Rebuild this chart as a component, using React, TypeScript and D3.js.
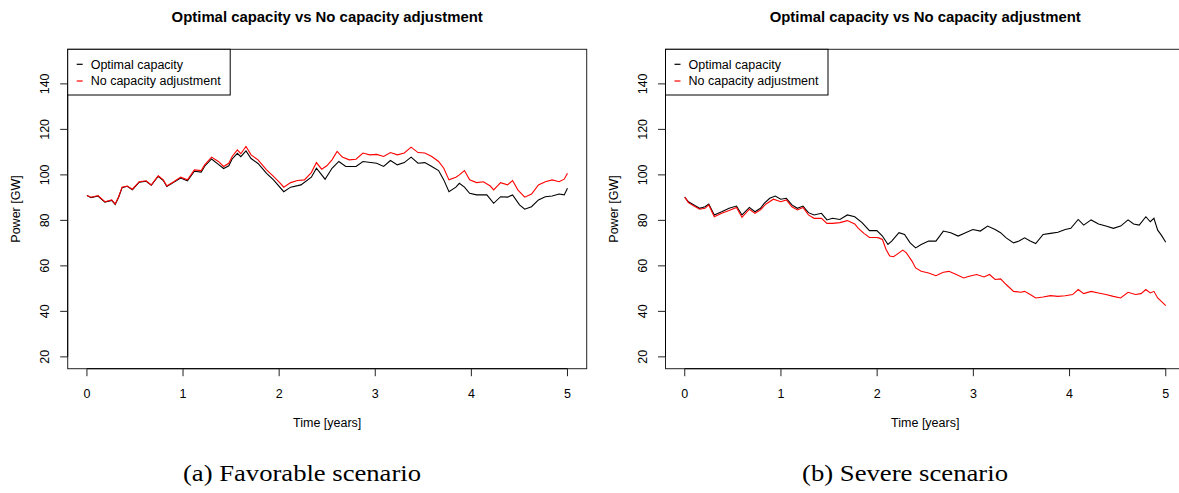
import React from 'react';
import * as d3 from 'd3';

// [time in years, power in GW]
const favorableOptimal: [number, number][] = [
  [0, 90.9], [0.043, 90.0], [0.115, 90.7], [0.187, 88.0], [0.258, 88.8], [0.294, 87.0], [0.33, 90.2],
  [0.366, 94.4], [0.419, 95.0], [0.473, 93.5], [0.544, 96.8], [0.616, 97.2], [0.67, 95.4], [0.742, 99.4],
  [0.795, 97.5], [0.831, 94.9], [0.903, 96.7], [0.975, 98.6], [1.046, 97.4], [1.118, 101.6], [1.189, 101.2],
  [1.225, 103.8], [1.297, 107.0], [1.368, 104.6], [1.422, 102.8], [1.476, 104.0], [1.511, 107.0], [1.565, 109.5],
  [1.601, 108.0], [1.655, 110.5], [1.708, 107.2], [1.78, 105.0], [1.869, 100.7], [1.941, 97.8], [2.048, 92.6],
  [2.12, 94.6], [2.227, 95.6], [2.335, 99.0], [2.388, 102.9], [2.478, 98.1], [2.55, 102.9], [2.621, 105.9],
  [2.693, 103.7], [2.8, 103.7], [2.872, 105.9], [3.015, 105.1], [3.087, 103.7], [3.158, 106.3], [3.23, 104.4],
  [3.302, 105.4], [3.373, 107.8], [3.445, 105.1], [3.516, 105.4], [3.588, 103.7], [3.659, 101.9], [3.713, 97.8],
  [3.767, 92.6], [3.839, 94.6], [3.875, 96.3], [3.928, 94.6], [3.982, 91.9], [4.054, 91.2], [4.161, 91.2],
  [4.232, 87.5], [4.304, 90.4], [4.376, 90.2], [4.429, 91.2], [4.501, 86.8], [4.555, 84.9], [4.626, 86.0],
  [4.698, 89.0], [4.769, 90.4], [4.841, 90.7], [4.913, 91.6], [4.966, 91.2], [5.0, 94.1],
];

const favorableNoAdjust: [number, number][] = [
  [0, 90.9], [0.043, 90.2], [0.115, 90.9], [0.187, 88.2], [0.258, 89.0], [0.294, 87.2], [0.33, 90.4],
  [0.366, 94.6], [0.419, 95.1], [0.473, 93.7], [0.544, 97.0], [0.616, 97.4], [0.67, 95.6], [0.742, 99.6],
  [0.795, 97.8], [0.831, 95.1], [0.903, 97.0], [0.975, 99.0], [1.046, 97.8], [1.118, 102.2], [1.189, 101.9],
  [1.225, 104.4], [1.297, 107.8], [1.368, 105.9], [1.422, 103.7], [1.476, 105.1], [1.511, 108.1], [1.565, 111.0],
  [1.601, 109.3], [1.655, 112.5], [1.708, 108.8], [1.78, 106.6], [1.869, 102.2], [1.941, 99.3], [2.013, 96.3],
  [2.048, 94.6], [2.12, 96.6], [2.191, 97.5], [2.263, 97.8], [2.335, 101.0], [2.388, 105.4], [2.442, 102.5],
  [2.496, 104.0], [2.55, 106.6], [2.603, 110.3], [2.657, 107.8], [2.729, 106.6], [2.8, 106.9], [2.872, 109.6],
  [2.943, 108.8], [3.015, 109.0], [3.087, 108.1], [3.158, 109.8], [3.23, 108.8], [3.302, 109.6], [3.373, 112.2],
  [3.445, 109.8], [3.516, 109.6], [3.588, 108.1], [3.659, 105.9], [3.713, 102.9], [3.767, 97.8], [3.839, 99.0],
  [3.875, 100.0], [3.928, 101.9], [3.982, 97.8], [4.054, 96.6], [4.125, 97.0], [4.197, 95.1], [4.232, 93.4],
  [4.304, 96.6], [4.376, 95.6], [4.429, 97.5], [4.483, 93.4], [4.555, 90.2], [4.626, 91.6], [4.698, 95.6],
  [4.769, 97.0], [4.841, 97.8], [4.913, 97.0], [4.966, 98.1], [5.0, 100.7],
];

const severeOptimal: [number, number][] = [
  [0, 90.2], [0.038, 88.2], [0.096, 86.8], [0.154, 85.3], [0.211, 86.0], [0.25, 87.2], [0.307, 82.4],
  [0.384, 83.8], [0.461, 85.3], [0.538, 86.3], [0.595, 82.4], [0.672, 85.7], [0.73, 83.8], [0.787, 85.3],
  [0.826, 87.5], [0.883, 89.7], [0.941, 90.7], [0.998, 89.3], [1.056, 89.7], [1.114, 86.8], [1.171, 85.3],
  [1.229, 86.3], [1.286, 83.4], [1.344, 82.4], [1.421, 83.1], [1.478, 80.2], [1.536, 80.9], [1.613, 80.4],
  [1.69, 82.4], [1.767, 81.6], [1.843, 79.0], [1.92, 75.5], [1.997, 75.5], [2.055, 73.1], [2.112, 69.4],
  [2.151, 70.9], [2.227, 74.6], [2.285, 73.8], [2.343, 70.1], [2.4, 67.9], [2.458, 69.4], [2.535, 70.9],
  [2.611, 70.9], [2.688, 75.3], [2.765, 74.6], [2.842, 73.1], [2.919, 74.6], [2.995, 76.0], [3.072, 75.3],
  [3.149, 77.5], [3.226, 76.0], [3.283, 74.6], [3.341, 72.3], [3.418, 70.1], [3.475, 70.9], [3.533, 72.3],
  [3.591, 70.9], [3.648, 69.8], [3.725, 73.8], [3.802, 74.3], [3.879, 74.8], [3.955, 76.0], [4.013, 76.5],
  [4.09, 80.4], [4.147, 77.9], [4.224, 80.2], [4.301, 78.4], [4.378, 77.5], [4.455, 76.5], [4.531, 77.5],
  [4.608, 80.2], [4.666, 78.4], [4.724, 77.9], [4.793, 81.6], [4.839, 79.4], [4.877, 80.9], [4.916, 75.7],
  [4.954, 73.5], [5.0, 70.4],
];

const severeNoAdjust: [number, number][] = [
  [0, 90.2], [0.038, 87.8], [0.096, 86.3], [0.154, 84.9], [0.211, 85.3], [0.25, 86.8], [0.307, 81.6],
  [0.384, 83.1], [0.461, 84.3], [0.538, 85.7], [0.595, 81.3], [0.672, 84.9], [0.73, 83.1], [0.787, 84.6],
  [0.845, 87.2], [0.922, 89.3], [0.998, 88.2], [1.056, 89.0], [1.114, 86.0], [1.171, 84.6], [1.229, 85.7],
  [1.286, 82.4], [1.344, 80.9], [1.421, 80.9], [1.478, 78.7], [1.536, 78.7], [1.613, 79.0], [1.69, 79.9],
  [1.767, 78.4], [1.805, 76.5], [1.863, 74.3], [1.92, 72.5], [1.997, 72.5], [2.016, 72.3], [2.055, 71.6],
  [2.093, 67.2], [2.131, 64.3], [2.17, 64.0], [2.227, 65.7], [2.266, 66.9], [2.304, 65.7], [2.362, 62.1],
  [2.4, 59.1], [2.458, 57.6], [2.535, 56.9], [2.611, 55.7], [2.688, 57.2], [2.746, 57.6], [2.823, 56.2],
  [2.899, 54.7], [2.957, 55.4], [3.034, 56.2], [3.111, 55.1], [3.168, 56.2], [3.226, 54.0], [3.283, 54.3],
  [3.341, 51.8], [3.418, 48.8], [3.495, 48.4], [3.533, 48.8], [3.591, 47.4], [3.648, 45.9], [3.725, 46.3],
  [3.802, 46.9], [3.879, 46.6], [3.955, 46.9], [4.032, 47.4], [4.09, 49.6], [4.147, 47.8], [4.224, 48.8],
  [4.301, 48.1], [4.378, 47.4], [4.455, 46.6], [4.531, 45.9], [4.608, 48.4], [4.685, 47.4], [4.743, 47.8],
  [4.793, 49.6], [4.839, 48.1], [4.877, 48.8], [4.916, 45.9], [4.954, 44.4], [5.0, 42.5],
];

const xTicks = [0, 1, 2, 3, 4, 5];
const yTicks = [20, 40, 60, 80, 100, 120, 140];
const legendLabels = ['Optimal capacity', 'No capacity adjustment'];
const seriesColors = ['#000000', '#ff0000'];
const chartTitle = 'Optimal capacity vs No capacity adjustment';
const captions = ['(a) Favorable scenario', '(b) Severe scenario'];

const width = 1179;
const height = 493;
const sans = '"Liberation Sans", Arial, Helvetica, sans-serif';
const serif = '"Liberation Serif", "Times New Roman", Times, serif';

interface PanelProps {
  left: number;
  right: number;
  optimal: [number, number][];
  noAdjust: [number, number][];
  caption: string;
  captionX: number;
  captionW: number;
}

const Panel: React.FC<PanelProps> = ({ left, right, optimal, noAdjust, caption, captionX, captionW }) => {
  const top = 49.3;
  const bottom = 368.7;

  const x = d3.scaleLinear().domain([-0.2, 5.2]).range([left, right]);
  const y = d3.scaleLinear().domain([14.8, 155.2]).range([bottom, top]);

  const line = d3.line<[number, number]>()
    .x(d => x(d[0]))
    .y(d => y(d[1]));

  const cx = (left + right) / 2;
  const cy = (top + bottom) / 2;

  return (
    <g>
      <text x={cx} y={22} textAnchor="middle" fontFamily={sans} fontWeight="bold" fontSize={14.9}>
        {chartTitle}
      </text>

      {/* series */}
      <path d={line(optimal) || ''} fill="none" stroke={seriesColors[0]} strokeWidth={1.1} />
      <path d={line(noAdjust) || ''} fill="none" stroke={seriesColors[1]} strokeWidth={1.1} />

      {/* box */}
      <rect x={left} y={top} width={right - left} height={bottom - top} fill="none" stroke="#222" strokeWidth={1} />

      {/* x axis */}
      <line x1={x(0)} x2={x(5)} y1={bottom} y2={bottom} stroke="#000" />
      {xTicks.map(t => (
        <g key={t}>
          <line x1={x(t)} x2={x(t)} y1={bottom} y2={bottom + 7.5} stroke="#222" />
          <text x={x(t)} y={397.5} textAnchor="middle" fontFamily={sans} fontSize={12.5}>{t}</text>
        </g>
      ))}
      <text x={cx} y={427} textAnchor="middle" fontFamily={sans} fontSize={12.5}>Time [years]</text>

      {/* y axis */}
      <line x1={left} x2={left} y1={y(20)} y2={y(140)} stroke="#000" />
      {yTicks.map(t => (
        <g key={t}>
          <line x1={left - 7.5} x2={left} y1={y(t)} y2={y(t)} stroke="#222" />
          <text
            transform={`translate(${left - 18.5},${y(t)}) rotate(-90)`}
            textAnchor="middle"
            fontFamily={sans}
            fontSize={12.5}
          >
            {t}
          </text>
        </g>
      ))}
      <text
        transform={`translate(${left - 48},${cy}) rotate(-90)`}
        textAnchor="middle"
        fontFamily={sans}
        fontSize={12.5}
      >
        Power [GW]
      </text>

      {/* legend */}
      <rect x={left} y={top} width={162.5} height={45.7} fill="#fff" stroke="#000" />
      {legendLabels.map((lab, i) => (
        <g key={lab}>
          <line
            x1={left + 9}
            x2={left + 15}
            y1={top + 15 + i * 16.7}
            y2={top + 15 + i * 16.7}
            stroke={seriesColors[i]}
            strokeWidth={1.2}
          />
          <text x={left + 23} y={top + 19.3 + i * 16.7} fontFamily={sans} fontSize={12.5}>{lab}</text>
        </g>
      ))}

      {/* caption: the source figure is stretched a bit sideways */}
      <text
        x={captionX}
        y={481}
        textAnchor="middle"
        fontFamily={serif}
        fontSize={24}
        textLength={captionW}
        lengthAdjust="spacingAndGlyphs"
      >
        {caption}
      </text>
    </g>
  );
};

export default function App() {
  return (
    <svg
      width={width}
      height={height}
      style={{ position: 'absolute', left: 0, top: 0, background: '#fff' }}
    >
      <rect width={width} height={height} fill="#fff" />
      <Panel
        left={67.7}
        right={586.7}
        optimal={favorableOptimal}
        noAdjust={favorableNoAdjust}
        caption={captions[0]}
        captionX={302}
        captionW={238}
      />
      <Panel
        left={665.5}
        right={1185}
        optimal={severeOptimal}
        noAdjust={severeNoAdjust}
        caption={captions[1]}
        captionX={905}
        captionW={206}
      />
    </svg>
  );
}
